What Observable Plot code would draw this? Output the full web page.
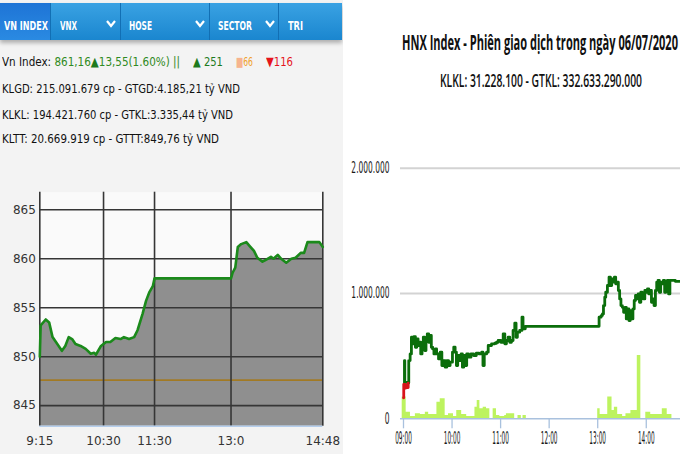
<!DOCTYPE html>
<html><head><meta charset="utf-8">
<script src="https://cdn.jsdelivr.net/npm/d3@7"></script>
<script src="https://cdn.jsdelivr.net/npm/@observablehq/plot@0.6"></script>
<style>
html,body{margin:0;padding:0;}
body{width:680px;height:454px;overflow:hidden;position:relative;background:#fff;font-family:"DejaVu Sans",sans-serif;}
#left{position:absolute;left:0;top:0;width:343px;height:454px;background:#f3f3f3;}
#tabs{position:absolute;left:0;top:3px;width:342px;height:37px;background:linear-gradient(#3aa2e3,#1a86cf);box-shadow:0 3px 4px rgba(0,0,0,0.28);}
.tab{position:absolute;top:0;height:37px;border-right:1px solid #126fb4;box-sizing:border-box;}
.tab.active{background:linear-gradient(#1e74d6,#2a8ae2);}
.fit{position:absolute;white-space:nowrap;transform-origin:0 50%;}
.tt{color:#fff;font-weight:bold;font-size:13px;line-height:16px;top:15px;}
.ln{font-size:13px;line-height:16px;color:#111;}
.chev{position:absolute;top:17px;}
#leftChart{position:absolute;left:0;top:180px;width:345px;}
#right{position:absolute;left:343px;top:0;width:337px;height:454px;background:#fff;overflow:hidden;}
#rightChart{position:absolute;left:2px;top:140px;width:335px;}
svg{max-width:none !important;}
.ttl{font-family:"Open Sans","DejaVu Sans",sans-serif;color:#111;}
</style>
</head><body>
<div id="left">
  <div id="tabs">
    <div class="tab active" style="left:0;width:51px"></div>
    <div class="tab" style="left:51px;width:70px"></div>
    <div class="tab" style="left:121px;width:89px"></div>
    <div class="tab" style="left:210px;width:69px"></div>
    <div class="tab" style="left:279px;width:63px;border-right:none"></div>
    <span class="fit tt" data-w="44" style="left:4px">VN INDEX</span>
    <span class="fit tt" data-w="17" style="left:60px">VNX</span>
    <span class="fit tt" data-w="23" style="left:129px">HOSE</span>
    <span class="fit tt" data-w="34" style="left:218px">SECTOR</span>
    <span class="fit tt" data-w="15" style="left:288px">TRI</span>
    <svg class="chev" style="left:106px" width="10" height="8"><polyline points="1,1 5,6 9,1" fill="none" stroke="#fff" stroke-width="2.2"/></svg>
    <svg class="chev" style="left:195px" width="10" height="8"><polyline points="1,1 5,6 9,1" fill="none" stroke="#fff" stroke-width="2.2"/></svg>
    <svg class="chev" style="left:265px" width="10" height="8"><polyline points="1,1 5,6 9,1" fill="none" stroke="#fff" stroke-width="2.2"/></svg>
  </div>
  <span class="fit ln" data-w="178" style="left:2px;top:54px">Vn Index: <span style="color:#2f8a22">861,16<span style="color:#1d7a1d">▲</span>13,55(1.60%) ||</span></span>
  <span class="fit ln" data-w="30" style="left:193px;top:54px;color:#1d7a1d">▲ 251</span>
  <span class="fit ln" data-w="17" style="left:236px;top:54px;color:#f0a02a"><span style="color:#f7b48e">■</span>66</span>
  <span class="fit ln" data-w="27" style="left:266px;top:54px;color:#e5141c">▼116</span>
  <span class="fit ln" data-w="238" style="left:2px;top:81px">KLGD: 215.091.679 cp - GTGD:4.185,21 tỷ VND</span>
  <span class="fit ln" data-w="231" style="left:2px;top:107px">KLKL: 194.421.760 cp - GTKL:3.335,44 tỷ VND</span>
  <span class="fit ln" data-w="217" style="left:2px;top:131px">KLTT: 20.669.919 cp - GTTT:849,76 tỷ VND</span>
  <div id="leftChart"></div>
</div>
<div id="right">
  <span class="fit ttl" data-w="276" style="left:59px;top:28px;font-size:22px;line-height:27px;font-weight:bold">HNX Index - Phiên giao dịch trong ngày 06/07/2020</span>
  <span class="fit ttl" data-w="202" style="left:97px;top:69px;font-size:18px;line-height:22px;font-weight:600">KLKL: 31.228.100 - GTKL: 332.633.290.000</span>
  <div id="rightChart"></div>
</div>
<script>
// ---------- VN-Index (left) ----------
const vnTime = ["9:15","9:16","9:22","9:26","9:30","9:34","9:41","9:45","9:49","9:53","9:57","10:03","10:09","10:15","10:19","10:21","10:27","10:33","10:38","10:44","10:50","10:54","11:00","11:06","11:10","11:16","11:20","11:24","11:28","11:30","13:00","13:02","13:05","13:08","13:12","13:18","13:22","13:27","13:31","13:37","13:41","13:47","13:50","13:55","13:59","14:05","14:11","14:16","14:22","14:26","14:30","14:36","14:44","14:48"];
const vnValue = [850.0,853.2,853.8,853.5,852.0,851.5,850.6,851.1,852.0,851.8,851.3,851.1,850.8,850.3,850.4,850.2,851.1,851.5,851.5,851.9,851.8,852.0,851.8,852.0,852.7,854.4,855.7,856.6,857.2,858.0,858.0,858.6,859.1,861.2,861.5,861.7,861.3,860.8,860.1,859.7,859.9,860.2,860.0,860.4,860.0,859.6,860.0,860.1,860.6,860.6,861.7,861.7,861.7,861.2];
const vnReference = 847.61;
const vnYTicks = [845, 850, 855, 860, 865];
const vnXTickLabels = ["9:15","10:30","11:30","13:0","14:48"];
const vnYDomain = [842.9, 866.8];

// ---------- HNX (right) : [minutes after 09:00, value on chart axis] ----------
const hnxRedLine = [[0,168000],[0.3,275000],[1.6,245000],[3.0,270000],[4.5,250000],[5.8,285000]];
const hnxGreenLine = [[1.0,285000],[1.2,465000],[1.6,290000],[5.8,285000],[6.5,465000],[8.2,518000],[9.8,651000],[11.4,598000],[13.1,656000],[14.7,571000],[16.4,638000],[18.0,585000],[19.6,611000],[21.3,518000],[22.9,585000],[24.5,651000],[26.2,545000],[27.8,638000],[29.4,678000],[31.1,611000],[32.7,665000],[34.4,571000],[36.0,558000],[37.6,518000],[39.3,558000],[40.9,518000],[43.3,478000],[45.4,532000],[47.4,425000],[49.5,465000],[51.5,412000],[53.5,465000],[55.6,425000],[57.6,452000],[60.5,532000],[62.1,571000],[63.8,532000],[65.4,425000],[67.0,505000],[69.1,465000],[71.2,518000],[72.8,412000],[74.4,505000],[76.1,425000],[78.1,518000],[80.2,492000],[83.4,518000],[86.7,505000],[90.0,524000],[93.3,518000],[96.6,532000],[98.2,425000],[99.8,518000],[102.7,532000],[104.7,585000],[108.8,598000],[112.9,603000],[115.0,611000],[117.0,625000],[120.3,611000],[123.2,678000],[125.2,598000],[127.2,625000],[129.3,651000],[131.3,611000],[133.4,625000],[135.4,705000],[137.5,763000],[139.1,651000],[140.7,691000],[143.6,705000],[146.4,811000],[147.7,718000],[150.5,738000],[240.9,738000],[241.7,811000],[244.2,824000],[245.8,837000],[247.1,904000],[248.7,970000],[249.9,1010000],[252.0,1064000],[254.0,1130000],[255.7,1064000],[257.3,1117000],[258.9,1090000],[260.6,1130000],[262.2,1077000],[263.8,1090000],[265.5,1024000],[267.1,957000],[268.7,904000],[270.4,890000],[272.0,850000],[273.7,890000],[275.3,797000],[276.9,877000],[278.6,784000],[280.2,864000],[281.8,797000],[283.5,877000],[285.1,944000],[286.7,984000],[288.4,957000],[290.0,997000],[291.6,930000],[293.3,1010000],[294.9,997000],[296.5,957000],[298.2,1024000],[299.8,1010000],[301.5,1037000],[303.1,997000],[304.7,1024000],[306.4,930000],[308.0,957000],[309.6,904000],[311.3,1024000],[312.9,1090000],[314.5,1104000],[316.2,1010000],[317.8,1090000],[319.4,1077000],[321.1,1104000],[322.7,1010000],[324.3,1090000],[326.0,1104000],[327.6,997000],[329.2,1104000],[331.7,1104000],[335.8,1097000],[342.3,1097000]];
const hnxVolume = [[-1.6,173000],[3.3,53000],[8.6,19000],[14.7,40000],[20.9,35000],[27.0,53000],[31.1,35000],[41.3,133000],[45.4,160000],[51.5,27000],[55.6,40000],[61.8,19000],[65.8,66000],[71.9,35000],[78.1,19000],[88.3,93000],[91.1,146000],[94.4,80000],[98.5,93000],[102.6,80000],[106.7,0],[110.8,80000],[114.9,27000],[119.0,19000],[125.1,27000],[127.2,40000],[137.4,0],[141.5,27000],[145.6,0],[147.7,27000],[151.8,0],[240.0,80000],[243.0,35000],[252.4,173000],[257.7,66000],[260.6,93000],[264.7,35000],[270.8,19000],[274.9,40000],[281.0,66000],[288.9,505000],[293.3,0],[299.4,53000],[305.5,35000],[319.8,80000],[325.9,35000],[331.7,0]];
const hnxXTickLabels = ["09:00","10:00","11:00","12:00","13:00","14:00"];
const hnxYTicks = [0, 1000000, 2000000];

// ---------- helpers ----------
const toMin = s => { const [h, m] = s.split(":").map(Number); return h * 60 + m; };
const vn = vnTime.map((t, i) => ({t: toMin(t), v: vnValue[i]}));
const vnXTicks = vnXTickLabels.map(toMin);
const hnxXTicks = hnxXTickLabels.map(s => toMin(s) - 540);
const dotFmt = d => d3.format(",")(d).replace(/,/g, ".");

// ---------- left chart ----------
const leftPlot = Plot.plot({
  width: 345, height: 274,
  marginLeft: 39.3, marginRight: 22.7, marginTop: 11.7, marginBottom: 28.3,
  style: {background: "transparent", fontFamily: "DejaVu Sans", fontSize: "12px", color: "#333", overflow: "visible"},
  x: {domain: [toMin("9:15"), toMin("14:48")], ticks: vnXTicks, tickFormat: d => vnXTickLabels[vnXTicks.indexOf(d)], tickSize: 0, tickPadding: 10, label: null},
  y: {domain: vnYDomain, ticks: vnYTicks, tickSize: 0, tickPadding: 4, label: null},
  marks: [
    Plot.frame({fill: "#fafafa", stroke: null}),
    Plot.areaY(vn, {x: "t", y1: vnYDomain[0], y2: "v", fill: "#8f8f8f"}),
    Plot.ruleY([vnReference], {stroke: "#a27a24", strokeWidth: 1.6}),
    Plot.ruleY(vnYTicks, {stroke: "#363636", strokeWidth: 1.6}),
    Plot.ruleX(vnXTicks, {stroke: "#363636", strokeWidth: 1.6}),
    Plot.ruleY([vnYDomain[0]], {stroke: "#b4cdec", strokeWidth: 1.5}),
    Plot.line(vn, {x: "t", y: "v", stroke: "#1b8a1b", strokeWidth: 2.6})
  ]
});
document.getElementById("leftChart").appendChild(leftPlot);

// ---------- right chart ----------
const rightPlot = Plot.plot({
  width: 335, height: 314,
  marginLeft: 55, marginRight: 0, marginTop: 27.7, marginBottom: 35.7,
  style: {background: "transparent", fontFamily: "DejaVu Sans", fontSize: "14px", color: "#1a1a1a", overflow: "visible"},
  x: {domain: [-3.7, 342.3], ticks: hnxXTicks, tickFormat: d => hnxXTickLabels[hnxXTicks.indexOf(d)], tickSize: 0, tickPadding: 13, label: null},
  y: {domain: [0, 2000000], ticks: hnxYTicks, tickFormat: dotFmt, tickSize: 0, tickPadding: 11, label: null},
  marks: [
    Plot.ruleY([1000000, 2000000], {stroke: "#d3d3d3", strokeWidth: 2}),
    Plot.areaY(hnxVolume, {x: d => d[0], y: d => d[1], curve: "step-after", fill: "#bdf35f"}),
    Plot.ruleY([0], {stroke: "#a9c1de", strokeWidth: 1.5}),
    Plot.ruleX(hnxXTicks, {y1: 0, y2: 0, insetBottom: -10, stroke: "#a9c1de", strokeWidth: 1.3}),
    Plot.line(hnxGreenLine, {x: d => d[0], y: d => d[1], curve: "step-after", stroke: "#0b6e0b", strokeWidth: 2.8}),
    Plot.line(hnxRedLine, {x: d => d[0], y: d => d[1], curve: "step-after", stroke: "#d8141a", strokeWidth: 2.8})
  ]
});
document.getElementById("rightChart").appendChild(rightPlot);

// squeeze the condensed tick labels of the HNX chart (scale each label about its own anchor)
rightPlot.querySelectorAll("text").forEach(t => {
  const s = t.textContent;
  const isX = s.includes(":");
  t.setAttribute("font-size", isX ? "17px" : "15px");
  const L = t.getComputedTextLength();
  if (!L) return;
  const k = isX ? 16.7 / L : 0.5;
  const tr = t.getAttribute("transform");
  const hasX = t.getAttribute("x") && +t.getAttribute("x") !== 0;
  if (tr && !hasX) {
    t.setAttribute("transform", `${tr} scale(${k.toFixed(4)},1)`);
  } else {
    t.setAttribute("textLength", (L * k).toFixed(2));
    t.setAttribute("lengthAdjust", "spacingAndGlyphs");
  }
});

// fit html text runs to their measured widths
document.querySelectorAll(".fit").forEach(el => {
  const w = +el.dataset.w;
  const r = el.getBoundingClientRect().width;
  if (r) el.style.transform = `scaleX(${w / r})`;
});
</script>
</body></html>
